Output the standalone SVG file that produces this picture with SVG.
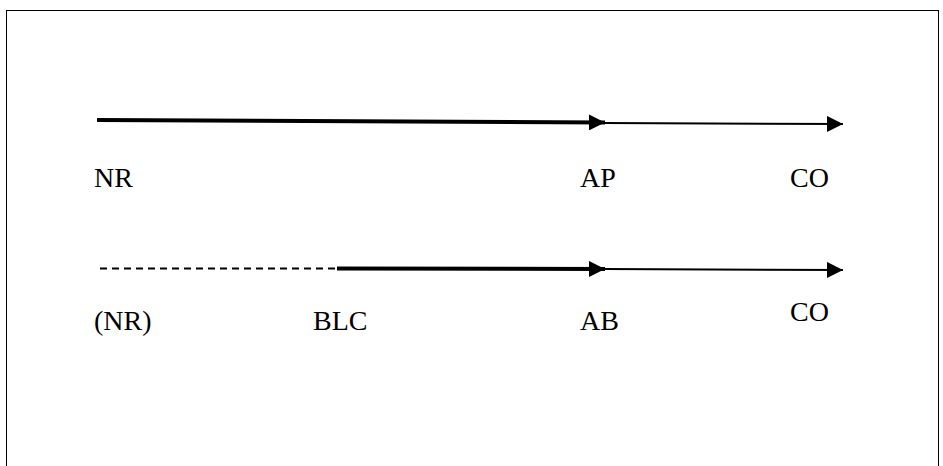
<svg xmlns="http://www.w3.org/2000/svg" width="943" height="466" viewBox="0 0 943 466">
<style>
.lbl{font-family:"Liberation Serif","Times New Roman",serif;font-size:28px;fill:#000}
.thick{stroke:#000;stroke-width:4;fill:none}
.thin{stroke:#000;stroke-width:2;fill:none}
.dash{stroke:#000;stroke-width:2;fill:none;stroke-dasharray:7,5}
</style>
<defs>
<marker id="ah" markerUnits="userSpaceOnUse" markerWidth="16" markerHeight="16" viewBox="0 0 16 16" refX="16" refY="8" orient="auto">
<polygon points="0,0 16,8 0,16" fill="#000"/>
</marker>
</defs>
<rect x="6.5" y="10.5" width="932" height="470" fill="none" stroke="#000" stroke-width="1"/>
<g id="connectors">
<line class="thick" x1="97" y1="120" x2="605" y2="122.5" marker-end="url(#ah)"/>
<line class="thin" x1="603" y1="123" x2="843" y2="124" marker-end="url(#ah)"/>
<line class="dash" x1="100" y1="268.5" x2="337" y2="268.5"/>
<line class="thick" x1="337" y1="268.5" x2="605" y2="269" marker-end="url(#ah)"/>
<line class="thin" x1="603" y1="269" x2="843" y2="270" marker-end="url(#ah)"/>
</g>
<g id="NR"><text class="lbl" x="94" y="187">NR</text></g>
<g id="AP"><text class="lbl" x="580" y="187">AP</text></g>
<g id="CO1"><text class="lbl" x="790" y="187">CO</text></g>
<g id="NR2"><text class="lbl" x="94" y="330">(NR)</text></g>
<g id="BLC"><text class="lbl" x="313" y="330">BLC</text></g>
<g id="AB"><text class="lbl" x="580" y="330">AB</text></g>
<g id="CO2"><text class="lbl" x="790" y="321">CO</text></g>
</svg>
